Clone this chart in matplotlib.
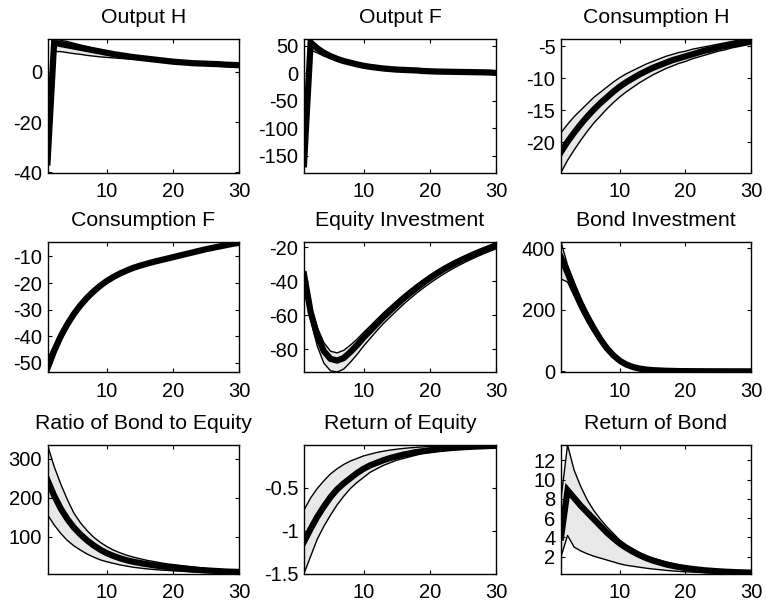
import numpy as np
import matplotlib
matplotlib.use('Agg')
import matplotlib.pyplot as plt

plt.rcParams['font.family'] = ['Liberation Sans', 'DejaVu Sans']

# horizon
t = np.arange(1, 31)

titles = ['Output H', 'Output F', 'Consumption H',
          'Consumption F', 'Equity Investment', 'Bond Investment',
          'Ratio of Bond to Equity', 'Return of Equity', 'Return of Bond']

# Output H
outh_med = [-36, 11.5, 11, 10.5, 10, 9.5, 9, 8.5, 8, 7.5, 7, 6.6, 6.2, 5.8, 5.5,
            5.2, 4.9, 4.6, 4.3, 4.0, 3.8, 3.6, 3.4, 3.3, 3.2, 3.1, 3.0, 2.8, 2.7, 2.6]
outh_up = [-33, 13, 12.5, 12, 11.3, 10.6, 10, 9.3, 8.7, 8.1, 7.5, 7.1, 6.7, 6.3, 5.9,
           5.6, 5.3, 5, 4.7, 4.4, 4.2, 4, 3.8, 3.6, 3.5, 3.4, 3.3, 3.1, 3, 2.9]
outh_lo = [-40, 8, 8, 7.6, 7.2, 6.9, 6.5, 6.2, 5.9, 5.7, 5.5, 5.3, 5.1, 5, 4.8,
           4.6, 4.4, 4.2, 4, 3.7, 3.5, 3.3, 3.1, 3, 2.9, 2.8, 2.7, 2.5, 2.4, 2.3]

# Output F
outf_med = [-165, 55, 45, 37, 31, 26, 22, 19, 16, 13.5, 11.5, 10, 8.5, 7.5, 6.5,
            6, 5.5, 5, 4, 3.5, 3, 2.8, 2.6, 2.4, 2.2, 2, 1.8, 1.6, 1.3, 0.5]
outf_up = [-155, 62, 50, 41, 34, 28.5, 24, 20.5, 17.5, 15, 12.8, 11, 9.5, 8.3, 7.3,
           6.6, 6, 5.4, 4.5, 4, 3.5, 3.2, 3, 2.8, 2.6, 2.4, 2.2, 2, 1.8, 1.2]
outf_lo = [-180, 42, 37, 31, 26.5, 22.5, 19, 16.5, 14, 12, 10, 8.7, 7.5, 6.6, 5.8,
           5.3, 4.9, 4.5, 3.6, 3.1, 2.7, 2.5, 2.3, 2.1, 1.9, 1.7, 1.5, 1.3, 1, 0]

# Consumption H
conh_med = [-21.5, -19.9, -18.5, -17.2, -16.0, -14.9, -13.9, -13.0, -12.1, -11.3,
            -10.6, -10.0, -9.4, -8.9, -8.4, -8.0, -7.6, -7.2, -6.9, -6.6,
            -6.3, -6.0, -5.7, -5.5, -5.2, -5.0, -4.8, -4.6, -4.4, -4.2]
conh_up = [-18.5, -17.2, -16.0, -15.0, -14.0, -13.0, -12.2, -11.4, -10.6, -9.9,
           -9.3, -8.8, -8.3, -7.8, -7.4, -7.0, -6.6, -6.3, -6.0, -5.8,
           -5.5, -5.3, -5.1, -4.9, -4.7, -4.5, -4.3, -4.1, -4.0, -3.9]
conh_lo = [-24.7, -22.8, -21.2, -19.7, -18.3, -17.0, -15.9, -14.8, -13.8, -12.9,
           -12.1, -11.4, -10.7, -10.1, -9.5, -9.0, -8.5, -8.1, -7.7, -7.4,
           -7.0, -6.7, -6.4, -6.1, -5.8, -5.6, -5.3, -5.1, -4.9, -4.7]

# Consumption F
conf_med = [-52, -45.5, -40, -35.5, -31.6, -28.3, -25.5, -23.1, -21, -19.2,
            -17.7, -16.4, -15.3, -14.3, -13.5, -12.8, -12.1, -11.5, -10.9, -10.3,
            -9.7, -9.1, -8.5, -7.9, -7.3, -6.8, -6.3, -5.8, -5.3, -4.9]
conf_up = [-48.5, -43.5, -38.4, -34.1, -30.4, -27.2, -24.5, -22.2, -20.2, -18.5,
           -17.0, -15.8, -14.7, -13.8, -13.0, -12.3, -11.7, -11.1, -10.5, -9.9,
           -9.4, -8.8, -8.2, -7.6, -7.0, -6.5, -6.0, -5.5, -5.0, -4.6]
conf_lo = [-53.4, -47.5, -41.7, -37.0, -32.9, -29.5, -26.6, -24.1, -21.9, -20.0,
           -18.5, -17.1, -16.0, -14.9, -14.1, -13.3, -12.6, -12.0, -11.4, -10.8,
           -10.1, -9.5, -8.9, -8.3, -7.7, -7.2, -6.7, -6.2, -5.7, -5.3]

# Equity Investment
eqi_med = [-36, -58, -72, -81, -85.5, -86.5, -85, -81.5, -77.5, -73, -69, -65, -61,
           -57.3, -53.7, -50.3, -47, -44, -41, -38.2, -35.6, -33.2, -31, -29,
           -27.1, -25.3, -23.6, -22, -20.5, -19]
eqi_up = [-34, -54, -67, -76, -81, -82, -80.5, -77.5, -74, -70, -66.2, -62.3, -58.5,
          -55, -51.5, -48.2, -45, -42, -39.2, -36.5, -34, -31.7, -29.6, -27.6,
          -25.8, -24, -22.3, -20.7, -19.2, -17]
eqi_lo = [-40, -62, -78, -88, -92.5, -93.2, -91.5, -87.5, -83, -78, -73.5, -69, -64.8,
          -61, -57.2, -53.6, -50.2, -47, -44, -41.2, -38.5, -36, -33.7, -31.5,
          -29.5, -27.6, -25.8, -24.1, -22.5, -21]

# Bond Investment
bdi_med = [370, 320, 268, 220, 178, 140, 105, 75, 52, 34, 22, 14, 9, 6, 4,
           3, 2, 1.5, 1, 0.8, 0.6, 0.5, 0.4, 0.3, 0.3, 0.2, 0.2, 0.1, 0.1, 0.1]
bdi_up = [420, 345, 290, 238, 193, 152, 115, 83, 58, 38, 25, 16, 10.5, 7, 5,
          3.8, 3, 2.3, 1.8, 1.4, 1.1, 0.9, 0.8, 0.7, 0.6, 0.5, 0.4, 0.3, 0.3, 0.3]
bdi_lo = [300, 290, 245, 200, 160, 125, 93, 66, 45, 29, 18, 11, 7, 4.5, 3,
          2, 1.3, 0.8, 0.5, 0.3, 0.2, 0.1, 0, -1, -2, -2, -2, -2, -2, -2]

# Ratio of Bond to Equity
rat_med = [245, 205, 172, 145, 123, 105, 90, 77, 66, 57, 50, 44, 39, 35, 32,
           29, 26.5, 24, 22, 20, 18.5, 17, 15.5, 14, 13, 12, 11, 10, 9.5, 9]
rat_up = [335, 280, 235, 195, 160, 135, 115, 98, 85, 74, 65, 58, 52, 47, 43,
          39, 36, 33, 30, 28, 26, 24, 22, 20, 18, 16, 14.5, 13, 12, 11]
rat_lo = [156, 130, 108, 90, 76, 65, 55, 47, 40, 35, 31, 27, 24, 21, 19,
          17, 15.5, 14, 13, 12, 11, 10, 9, 8, 7.5, 7, 6.5, 6, 5.5, 5]

# Return of Equity
req_med = [-1.13, -0.98, -0.84, -0.72, -0.61, -0.52, -0.45, -0.39, -0.33, -0.28,
           -0.24, -0.21, -0.18, -0.155, -0.135, -0.115, -0.1, -0.085, -0.075, -0.065,
           -0.055, -0.047, -0.04, -0.034, -0.029, -0.025, -0.021, -0.018, -0.015, -0.013]
req_up = [-0.76, -0.62, -0.51, -0.42, -0.34, -0.28, -0.23, -0.19, -0.16, -0.13,
          -0.11, -0.09, -0.075, -0.062, -0.052, -0.043, -0.036, -0.03, -0.025, -0.021,
          -0.018, -0.015, -0.012, -0.01, -0.008, -0.007, -0.006, -0.005, -0.004, -0.003]
req_lo = [-1.5, -1.3, -1.1, -0.95, -0.82, -0.7, -0.6, -0.51, -0.44, -0.38,
          -0.32, -0.28, -0.24, -0.21, -0.18, -0.16, -0.14, -0.12, -0.1, -0.09,
          -0.08, -0.07, -0.06, -0.05, -0.045, -0.04, -0.035, -0.03, -0.025, -0.02]

# Return of Bond
rbd_med = [4.0, 8.9, 8.1, 7.3, 6.6, 5.9, 5.2, 4.5, 3.9, 3.35, 2.9, 2.5, 2.15, 1.85, 1.6,
           1.4, 1.2, 1.05, 0.92, 0.82, 0.73, 0.65, 0.58, 0.53, 0.48, 0.44, 0.41, 0.38, 0.36, 0.34]
rbd_up = [8, 13.6, 11.0, 9.3, 7.9, 6.8, 5.9, 5.1, 4.4, 3.7, 3.2, 2.8, 2.4, 2.1, 1.85,
          1.65, 1.45, 1.3, 1.15, 1.0, 0.9, 0.8, 0.72, 0.65, 0.6, 0.55, 0.52, 0.5, 0.48, 0.46]
rbd_lo = [2.0, 4.2, 3.0, 2.6, 2.3, 2.05, 1.85, 1.65, 1.45, 1.25, 1.1, 1.0, 0.9, 0.8, 0.72,
          0.65, 0.58, 0.52, 0.47, 0.43, 0.4, 0.37, 0.34, 0.32, 0.3, 0.29, 0.28, 0.27, 0.26, 0.25]

series = [(outh_med, outh_up, outh_lo), (outf_med, outf_up, outf_lo),
          (conh_med, conh_up, conh_lo), (conf_med, conf_up, conf_lo),
          (eqi_med, eqi_up, eqi_lo), (bdi_med, bdi_up, bdi_lo),
          (rat_med, rat_up, rat_lo), (req_med, req_up, req_lo),
          (rbd_med, rbd_up, rbd_lo)]

yticks = [[-40, -20, 0], [-150, -100, -50, 0, 50], [-20, -15, -10, -5],
          [-50, -40, -30, -20, -10], [-80, -60, -40, -20], [0, 200, 400],
          [100, 200, 300], [-1.5, -1, -0.5], [2, 4, 6, 8, 10, 12]]
ytick_labels = [['-40', '-20', '0'], ['-150', '-100', '-50', '0', '50'],
                ['-20', '-15', '-10', '-5'], ['-50', '-40', '-30', '-20', '-10'],
                ['-80', '-60', '-40', '-20'], ['0', '200', '400'],
                ['100', '200', '300'], ['-1.5', '-1', '-0.5'],
                ['2', '4', '6', '8', '10', '12']]

W, H = 766, 607
col_x = [(47.5, 239), (304, 496), (561, 751)]
row_y = [(39, 172.5), (242, 372), (445, 573.5)]

fig = plt.figure(figsize=(W / 100, H / 100), dpi=100)

for i in range(9):
    r, c = divmod(i, 3)
    x0, x1 = col_x[c]
    y0, y1 = row_y[r]
    ax = fig.add_axes([x0 / W, 1 - y1 / H, (x1 - x0) / W, (y1 - y0) / H])
    med, up, lo = [np.array(s, dtype=float) for s in series[i]]
    ax.fill_between(t, lo, up, color='#e8e8e8', linewidth=0)
    ax.plot(t, up, color='black', linewidth=1.0)
    ax.plot(t, lo, color='black', linewidth=1.0)
    ax.plot(t, med, color='black', linewidth=4.5, solid_joinstyle='miter')
    ax.set_xlim(1, 30)
    ax.set_ylim(min(lo.min(), med.min()), max(up.max(), med.max()))
    ax.set_xticks([10, 20, 30])
    ax.set_yticks(yticks[i])
    ax.set_yticklabels(ytick_labels[i])
    ax.tick_params(direction='in', top=True, right=True, length=3, width=0.8,
                   labelsize=14.5)
    ax.tick_params(axis='x', pad=7)
    ax.tick_params(axis='y', pad=4)
    for sp in ax.spines.values():
        sp.set_linewidth(1.0)
    ax.set_title(titles[i], fontsize=15.3, pad=11.5)

fig.savefig('out.png', dpi=100)
